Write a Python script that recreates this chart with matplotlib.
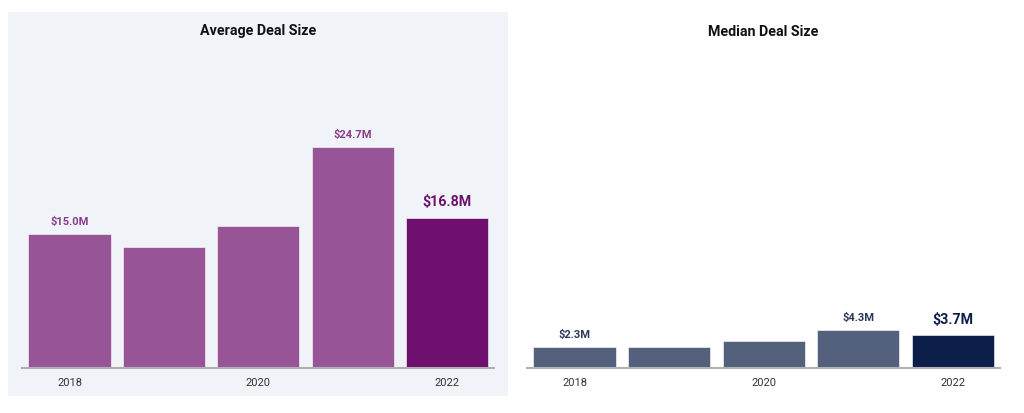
import matplotlib.pyplot as plt
from matplotlib.patches import Rectangle

# deal size data, $M
years = [2018, 2019, 2020, 2021, 2022]
avg_deal = [15.0, 13.5, 15.9, 24.7, 16.8]
median_deal = [2.3, 2.4, 3.0, 4.3, 3.7]
avg_labels = ["$15.0M", "", "", "$24.7M", "$16.8M"]
median_labels = ["$2.3M", "", "", "$4.3M", "$3.7M"]
tick_years = ["2018", "", "2020", "", "2022"]

plt.rcParams['font.family'] = ['Roboto', 'DejaVu Sans']

W, H = 1024, 413
fig = plt.figure(figsize=(W / 100, H / 100), dpi=100)
fig.patch.set_facecolor("white")

# light panel behind the left chart
fig.patches.append(Rectangle((8 / W, 1 - 396 / H), 500 / W, 384 / H,
                             transform=fig.transFigure, facecolor="#f0f4f8",
                             edgecolor="none", zorder=-5))

base_y = 368
top_y = 40
ymax = (base_y - top_y) / 8.95


def draw_panel(x0, x1, title, values, labels, col, hi_col, lab_col, hi_lab_col):
    ax = fig.add_axes([x0 / W, 1 - base_y / H, (x1 - x0) / W, (base_y - top_y) / H])
    ax.set_facecolor("none")
    colors = [col] * (len(values) - 1) + [hi_col]
    ax.bar(range(len(values)), values, width=0.87, color=colors,
           edgecolor="#ffffff", linewidth=0.4)
    ax.set_xlim(-0.5, len(values) - 0.5)
    ax.set_ylim(0, ymax)
    for i, (v, lab) in enumerate(zip(values, labels)):
        if not lab:
            continue
        last = i == len(values) - 1
        ax.annotate(lab, (i, v), xytext=(0, 6 if last else 5), textcoords="offset points",
                    ha="center", va="bottom", fontweight="bold",
                    fontsize=10.3 if last else 8,
                    color=hi_lab_col if last else lab_col)
    for s in ["top", "right", "left"]:
        ax.spines[s].set_visible(False)
    ax.spines["bottom"].set_color("#b0b0b0")
    ax.spines["bottom"].set_linewidth(1.5)
    ax.set_yticks([])
    ax.set_xticks(range(len(values)))
    ax.set_xticklabels(tick_years, fontsize=8, color="#333333")
    ax.tick_params(axis="x", length=0, pad=7)
    fig.text((x0 + x1) / 2 / W, 1 - 31.5 / H, title, ha="center", va="center",
             fontsize=10.3, fontweight="bold", color="#111111")
    return ax


draw_panel(22.3, 494.3, "Average Deal Size", avg_deal, avg_labels,
           "#975496", "#70106e", "#8a3c8c", "#70106e")
draw_panel(527.3, 1000, "Median Deal Size", median_deal, median_labels,
           "#54617c", "#0c1e4a", "#2b3a5c", "#0c1e4a")

fig.savefig("out.png", dpi=100)
